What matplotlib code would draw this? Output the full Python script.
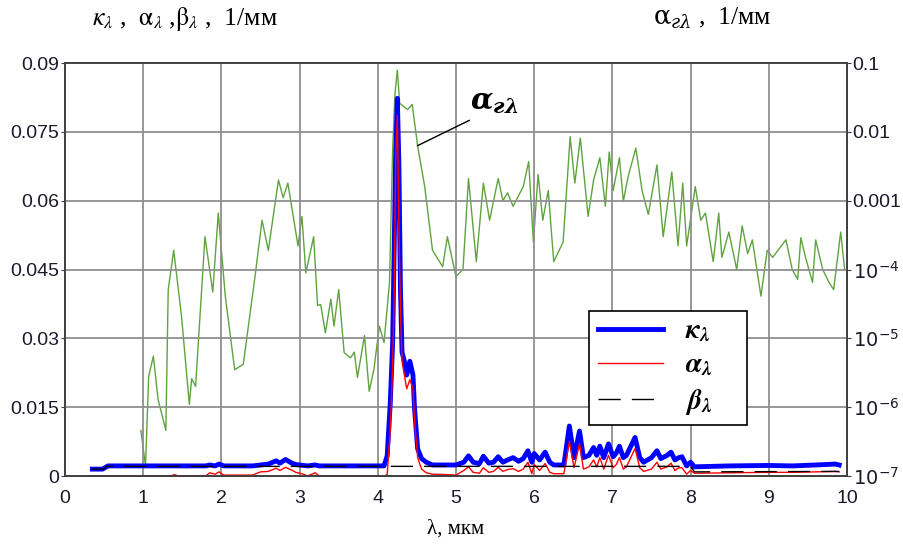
import math
import matplotlib
matplotlib.use("Agg")
import matplotlib.pyplot as plt
from matplotlib.ticker import FixedLocator, FuncFormatter

# wavelength grid for kappa / alpha, mkm
lam_ka = [0.35, 0.48, 0.55, 1.35, 1.40, 1.45, 1.80, 1.85, 1.92, 1.97, 2.03, 2.40, 2.50, 2.60,
          2.70, 2.75, 2.82, 2.90, 2.95, 3.05, 3.10, 3.20, 3.25, 4.08, 4.12, 4.16, 4.19, 4.21,
          4.23, 4.25, 4.27, 4.29, 4.31, 4.34, 4.37, 4.41, 4.45, 4.47, 4.51, 4.56, 4.62, 4.70,
          4.90, 5.00, 5.10, 5.16, 5.22, 5.30, 5.35, 5.42, 5.48, 5.54, 5.60, 5.66, 5.73, 5.80,
          5.86, 5.92, 5.97, 6.00, 6.07, 6.14, 6.20, 6.25, 6.38, 6.45, 6.51, 6.58, 6.63, 6.70,
          6.76, 6.80, 6.84, 6.89, 6.95, 7.01, 7.05, 7.09, 7.14, 7.18, 7.29, 7.35, 7.40, 7.50,
          7.57, 7.62, 7.70, 7.75, 7.80, 7.85, 7.89, 7.95, 8.00, 8.05, 8.50, 9.00, 9.30, 9.60,
          9.85, 9.90]
kappa = [0.0015, 0.0015, 0.0022, 0.0022, 0.0022, 0.0022, 0.0022, 0.0024, 0.0022, 0.0026,
         0.0022, 0.0022, 0.0024, 0.0026, 0.0033, 0.0028, 0.0036, 0.0028, 0.0025, 0.0023,
         0.0022, 0.0024, 0.0022, 0.0022, 0.0044, 0.0160, 0.0290, 0.0500, 0.0710, 0.0823,
         0.0680, 0.0407, 0.0270, 0.0250, 0.0220, 0.0250, 0.0220, 0.0147, 0.0059, 0.0038,
         0.0030, 0.0024, 0.0024, 0.0024, 0.0030, 0.0044, 0.0030, 0.0027, 0.0043, 0.0028,
         0.0030, 0.0042, 0.0030, 0.0035, 0.0040, 0.0032, 0.0038, 0.0055, 0.0030, 0.0049,
         0.0035, 0.0052, 0.0030, 0.0024, 0.0024, 0.0109, 0.0040, 0.0098, 0.0040, 0.0045,
         0.0062, 0.0045, 0.0065, 0.0040, 0.0070, 0.0042, 0.0050, 0.0065, 0.0040, 0.0045,
         0.0084, 0.0040, 0.0030, 0.0040, 0.0055, 0.0038, 0.0045, 0.0052, 0.0035, 0.0040,
         0.0042, 0.0022, 0.0030, 0.0020, 0.0022, 0.0023, 0.0022, 0.0024, 0.0026, 0.0024]
alpha = [0.0, 0.0, 0.0, 0.0, 0.0003, 0.0, 0.0, 0.0007, 0.0004, 0.0009,
         0.0002, 0.0002, 0.0009, 0.0010, 0.0017, 0.0012, 0.0019, 0.0013, 0.0008, 0.0004,
         0.0, 0.0007, 0.0, 0.0, 0.0003, 0.0100, 0.0240, 0.0400, 0.0696, 0.0786,
         0.0550, 0.0360, 0.0250, 0.0220, 0.0190, 0.0210, 0.0190, 0.0120, 0.0040, 0.0015,
         0.0007, 0.0004, 0.0003, 0.0002, 0.0012, 0.0020, 0.0008, 0.0006, 0.0018, 0.0008,
         0.0010, 0.0019, 0.0010, 0.0014, 0.0016, 0.0010, 0.0015, 0.0030, 0.0005, 0.0025,
         0.0012, 0.0027, 0.0008, 0.0005, 0.0005, 0.0075, 0.0018, 0.0070, 0.0015, 0.0020,
         0.0035, 0.0020, 0.0040, 0.0015, 0.0045, 0.0018, 0.0025, 0.0040, 0.0015, 0.0020,
         0.0060, 0.0018, 0.0010, 0.0015, 0.0030, 0.0015, 0.0020, 0.0028, 0.0012, 0.0018,
         0.0018, 0.0004, 0.0012, 0.0006, 0.0007, 0.0008, 0.0008, 0.0009, 0.0010, 0.0009]

lam_b = [0.35, 0.50, 0.52, 8.00, 8.05, 9.90]
beta = [0.0015, 0.0015, 0.0021, 0.0021, 0.0009, 0.0010]

lam_g = [0.97, 1.03, 1.07, 1.13, 1.19, 1.29, 1.32, 1.39, 1.49, 1.59, 1.62, 1.67, 1.79, 1.89,
         1.96, 2.05, 2.17, 2.28, 2.43, 2.52, 2.60, 2.73, 2.79, 2.85, 2.98, 3.03, 3.08, 3.18,
         3.23, 3.27, 3.33, 3.40, 3.44, 3.50, 3.57, 3.65, 3.70, 3.74, 3.83, 3.89, 3.95, 4.02,
         4.08, 4.15, 4.19, 4.22, 4.25, 4.28, 4.38, 4.44, 4.51, 4.60, 4.70, 4.83, 4.89, 5.00,
         5.09, 5.16, 5.26, 5.35, 5.43, 5.54, 5.60, 5.66, 5.73, 5.86, 5.93, 5.99, 6.05, 6.11,
         6.18, 6.25, 6.37, 6.46, 6.52, 6.59, 6.69, 6.76, 6.84, 6.91, 6.96, 7.01, 7.09, 7.14,
         7.20, 7.30, 7.38, 7.46, 7.57, 7.65, 7.76, 7.84, 7.90, 7.95, 8.06, 8.13, 8.19, 8.29,
         8.36, 8.40, 8.49, 8.59, 8.66, 8.73, 8.79, 8.90, 8.98, 9.05, 9.22, 9.30, 9.37, 9.41,
         9.47, 9.56, 9.60, 9.69, 9.77, 9.83, 9.92, 9.97]
alpha_g = [4.6e-7, 1.4e-7, 2.8e-6, 5.5e-6, 1.3e-6, 4.6e-7, 5.1e-5, 1.9e-4, 2.1e-5, 1.1e-6,
           2.6e-6, 2.0e-6, 3.0e-4, 4.7e-5, 6.6e-4, 4.1e-5, 3.5e-6, 4.2e-6, 7.9e-5, 5.2e-4,
           1.9e-4, 2.0e-3, 1.1e-3, 1.8e-3, 2.2e-4, 5.9e-4, 8.9e-5, 3.0e-4, 3.0e-5, 3.1e-5,
           1.2e-5, 3.7e-5, 1.5e-5, 5.1e-5, 6.2e-6, 5.2e-6, 6.3e-6, 2.7e-6, 1.1e-5, 1.7e-6,
           3.5e-6, 1.5e-5, 8.7e-6, 6.5e-5, 5.5e-3, 3.6e-2, 7.9e-2, 2.6e-2, 2.1e-2, 2.5e-2,
           6.2e-3, 1.6e-3, 1.9e-4, 1.1e-4, 3.0e-4, 7.9e-5, 1.0e-4, 2.1e-3, 1.3e-4, 1.8e-3,
           5.2e-4, 2.1e-3, 1.0e-3, 1.3e-3, 8.3e-4, 1.6e-3, 3.7e-3, 2.5e-4, 2.4e-3, 5.2e-4,
           1.4e-3, 1.3e-4, 2.5e-4, 8.5e-3, 1.8e-3, 8.1e-3, 5.9e-4, 2.0e-3, 4.2e-3, 8.3e-4,
           5.1e-3, 1.4e-3, 4.2e-3, 9.8e-4, 2.2e-3, 5.8e-3, 1.4e-3, 6.3e-4, 3.3e-3, 3.0e-4,
           2.6e-3, 2.2e-4, 1.8e-3, 2.2e-4, 1.6e-3, 5.2e-4, 6.6e-4, 1.3e-4, 6.6e-4, 1.5e-4,
           3.5e-4, 1.0e-4, 4.3e-4, 1.7e-4, 2.7e-4, 4.1e-5, 1.9e-4, 1.5e-4, 2.7e-4, 1.0e-4,
           7.2e-5, 2.9e-4, 1.5e-4, 6.5e-5, 2.7e-4, 1.0e-4, 6.5e-5, 5.1e-5, 3.5e-4, 1.0e-4]

left_ticks = [0, 0.015, 0.03, 0.045, 0.06, 0.075, 0.09]
left_labels = ["0", "0.015", "0.03", "0.045", "0.06", "0.075", "0.09"]
right_ticks = [1e-7, 1e-6, 1e-5, 1e-4, 1e-3, 1e-2, 1e-1]

tick_font = "Liberation Sans"
serif = "Liberation Serif"

fig = plt.figure(figsize=(9.04, 5.45), dpi=100)
ax = fig.add_axes([0.0719, 0.1266, 0.8650, 0.7578])
axr = ax.twinx()

axr.plot(lam_g, alpha_g, color="#5fa33f", lw=1.0)
axr.set_yscale("log")
axr.set_ylim(1e-7, 0.1)
axr.yaxis.set_major_locator(FixedLocator(right_ticks))
axr.yaxis.set_minor_locator(FixedLocator([]))


def right_fmt(v, pos):
    if v >= 1e-3:
        return "%g" % v
    e = int(round(math.log10(v)))
    return r"$\mathsf{10}^{-%d}$" % (-e)


axr.yaxis.set_major_formatter(FuncFormatter(right_fmt))
axr.tick_params(axis="y", direction="out", length=3, color="#404040", labelsize=14,
                pad=1, labelcolor="#1a1a2a")
for t in axr.get_yticklabels():
    t.set_fontfamily(tick_font)
    t.set_math_fontfamily("custom")

ax.set_zorder(axr.get_zorder() + 1)
ax.patch.set_visible(False)

ax.plot(lam_ka, kappa, color="#0000ff", lw=3.5, label=r"$\mathbfit{\kappa_{\lambda}}$")
ax.plot(lam_ka, alpha, color="#ff0000", lw=1.0, label=r"$\mathbfit{\alpha_{\lambda}}$")
ax.plot(lam_b, beta, color="black", lw=1.0, dashes=(16, 8), label=r"$\mathbfit{\beta_{\lambda}}$")

ax.set_xlim(0, 10)
ax.set_ylim(0, 0.09)
ax.set_xticks(range(11))
ax.set_yticks(left_ticks)
ax.set_yticklabels(left_labels)
ax.tick_params(axis="y", length=3, color="#404040", labelsize=14, colors="#1a1a2a", pad=1)
ax.tick_params(axis="x", length=0, labelsize=14, colors="#1a1a2a", pad=10)
for t in ax.get_xticklabels() + ax.get_yticklabels():
    t.set_fontfamily(tick_font)
ax.grid(True, color="#8f8f8f", lw=1.3)
for s in list(ax.spines.values()) + list(axr.spines.values()):
    s.set_color("#404040")
    s.set_linewidth(1.3)

leg = ax.legend(loc="lower left", bbox_to_anchor=(0.6705, 0.1235, 0.2013, 0.2889), mode="expand",
                borderaxespad=0, fancybox=False, edgecolor="black", framealpha=1,
                handlelength=2.35, borderpad=0.3, labelspacing=0.3, handletextpad=0.8,
                prop={"family": serif, "size": 20})
leg.get_frame().set_linewidth(1.2)
for t in leg.get_texts():
    t.set_math_fontfamily("stix")

# annotation for the gas absorption curve
ax.plot([4.51, 5.17], [0.072, 0.0775], color="black", lw=1.0)
ax.text(5.18, 0.0815, r"$\mathbfit{\alpha_{г\lambda}}$", fontsize=21, va="center", ha="left",
        math_fontfamily="dejavuserif")

ax.set_xlabel("λ, мкм", family=serif, fontsize=15, labelpad=9)

fig.text(0.102, 0.966, r"$\kappa_{\lambda}$ ,  $\mathrm{\alpha}_{\lambda}$ ,$\mathrm{\beta}_{\lambda}$ ,  1/мм",
         family=serif, fontsize=18.5, va="center", ha="left", math_fontfamily="stix")
fig.text(0.722, 0.966, r"$\mathrm{\alpha}_{г\lambda}$ ,  1/мм",
         family=serif, fontsize=18.5, va="center", ha="left", math_fontfamily="dejavuserif")

fig.savefig("out.png", dpi=100)
